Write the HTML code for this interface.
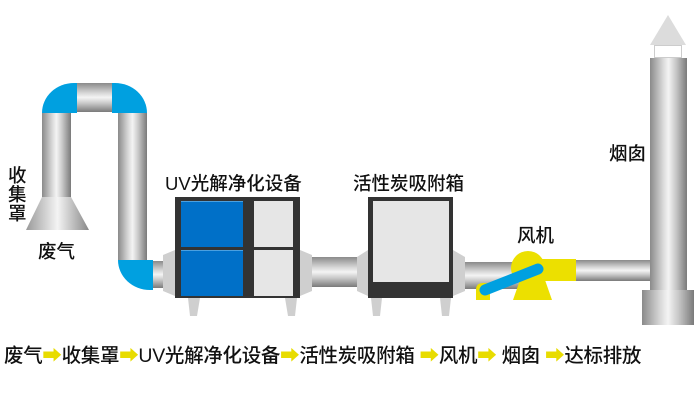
<!DOCTYPE html>
<html><head><meta charset="utf-8"><style>
body{margin:0;width:700px;height:400px;background:#fff;position:relative;overflow:hidden;font-family:"Liberation Sans","Noto Sans CJK SC",sans-serif;color:#111}
div{position:absolute;box-sizing:border-box}
.v{background:linear-gradient(90deg,#8a8a8a,#d8d8d8 35%,#f4f4f4 50%,#c8c8c8 70%,#7a7a7a)}
.h{background:linear-gradient(180deg,#8a8a8a,#d8d8d8 35%,#f4f4f4 50%,#c8c8c8 70%,#7a7a7a)}
.t{font-size:18.5px;white-space:nowrap;line-height:1;font-weight:500}
.blue{background:#00a0e0}
.a{color:#e8dc00}
</style></head><body>
<div class="blue" style="left:42px;top:83px;width:35px;height:30px;border-top-left-radius:32px 30px"></div>
<div class="h" style="left:77px;top:83px;width:35px;height:29px"></div>
<div class="blue" style="left:112px;top:83px;width:35px;height:30px;border-top-right-radius:32px 30px"></div>
<div class="v" style="left:42px;top:113px;width:29px;height:84px"></div>
<div class="v" style="left:118px;top:113px;width:29px;height:147px"></div>
<div class="blue" style="left:118px;top:260px;width:35px;height:30px;border-bottom-left-radius:32px 30px"></div>
<div class="h" style="left:153px;top:261px;width:12px;height:27px"></div>
<svg style="position:absolute;left:0;top:0" width="700" height="400">
<defs><linearGradient id="g" x1="0" x2="1"><stop offset="0" stop-color="#999"/><stop offset=".5" stop-color="#f4f4f4"/><stop offset="1" stop-color="#888"/></linearGradient></defs>
<polygon points="42,197 71,197 89,230 26,230" fill="url(#g)"/>
<polygon points="163,255 175,250 175,296 163,291" fill="#cfcfcf"/>
<polygon points="300,250 312,255 312,291 300,296" fill="#cfcfcf"/>
<polygon points="188,298 200,298 197,316 190,316" fill="#cfcfcf"/>
<polygon points="285,298 297,298 295,316 288,316" fill="#cfcfcf"/>
<polygon points="357,257 368,250 368,296 357,291" fill="#cfcfcf"/>
<polygon points="453,250 465,257 465,291 453,296" fill="#cfcfcf"/>
<polygon points="371,298 382,298 380,316 373,316" fill="#cfcfcf"/>
<polygon points="440,298 451,298 449,316 442,316" fill="#cfcfcf"/>
<polygon points="668,15 686,45 650,45" fill="#dcdcdc"/>
</svg>
<div class="h" style="left:312px;top:257px;width:45px;height:30px"></div>
<div style="left:175px;top:197px;width:125px;height:101px;background:#333"></div>
<div style="left:181px;top:201px;width:62px;height:46px;background:#0070c8;border-top:1px solid #4aa0e0"></div>
<div style="left:181px;top:250px;width:62px;height:46px;background:#0070c8;border-top:1px solid #4aa0e0"></div>
<div style="left:254px;top:201px;width:39px;height:46px;background:#e6e6e6"></div>
<div style="left:254px;top:250px;width:39px;height:46px;background:#e6e6e6"></div>
<div class="h" style="left:465px;top:262px;width:55px;height:27px"></div>
<div style="left:368px;top:197px;width:85px;height:101px;background:#333"></div>
<div style="left:373px;top:201px;width:76px;height:81px;background:#e6e6e6"></div>
<div class="h" style="left:575px;top:260px;width:78px;height:21px"></div>
<svg style="position:absolute;left:0;top:0" width="700" height="400">
<circle cx="528" cy="268" r="17" fill="#ece000"/>
<rect x="530" y="259" width="46" height="22" fill="#ece000"/>
<polygon points="520,280 545,280 552,300 513,300" fill="#ece000"/>
<path d="M476,300 V290 Q476,283 483,283 H490 V300 Z" fill="#ece000"/>
<line x1="485" y1="290" x2="538" y2="269" stroke="#00a0e0" stroke-width="11" stroke-linecap="round"/>
</svg>
<div style="left:654px;top:45px;width:28px;height:13px;background:#fff;border:1px solid #ccc"></div>
<div class="v" style="left:650px;top:58px;width:37px;height:232px"></div>
<div class="v" style="left:642px;top:290px;width:52px;height:35px"></div>
<div class="t" style="left:8px;top:166px;width:19px;line-height:19px;white-space:normal">收集罩</div>
<div class="t" style="left:38px;top:243px">废气</div>
<div class="t" style="left:165px;top:175px">UV光解净化设备</div>
<div class="t" style="left:353px;top:175px">活性炭吸附箱</div>
<div class="t" style="left:517px;top:227px">风机</div>
<div class="t" style="left:609px;top:145px">烟囱</div>
<div class="t" style="left:4px;top:347px;font-size:19.5px;letter-spacing:-0.3px">废气<span class="a">➡</span>收集罩<span class="a">➡</span>UV光解净化设备<span class="a">➡</span>活性炭吸附箱 <span class="a">➡</span>风机<span class="a">➡</span> 烟囱 <span class="a">➡</span>达标排放</div>
</body></html>
